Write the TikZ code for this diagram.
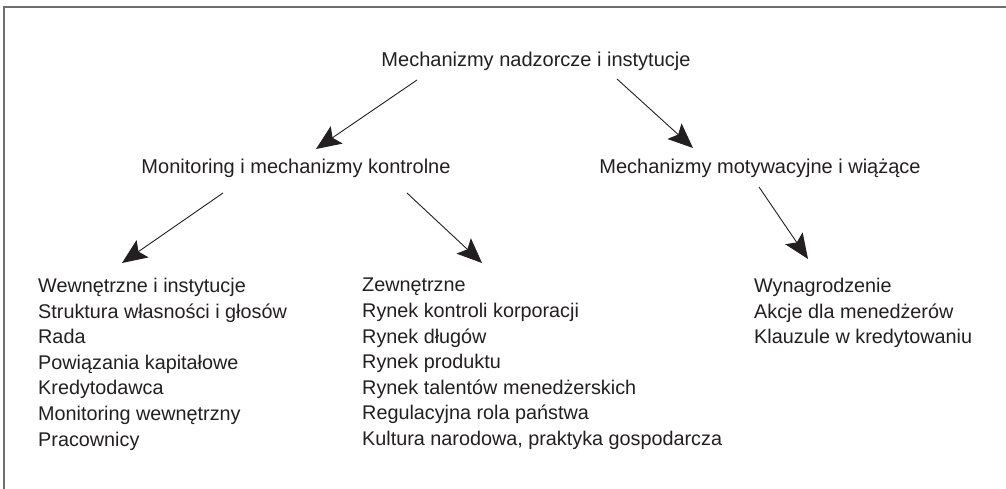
\documentclass[tikz,border=0pt]{standalone}
\usepackage{fontspec}
\setmainfont{Liberation Sans}
\usetikzlibrary{arrows.meta}
\definecolor{txt}{RGB}{35,31,32}
\definecolor{framec}{RGB}{110,110,110}
\begin{document}
\begin{tikzpicture}[x=1pt,y=-1pt,
 head/.style={font=\fontsize{20}{24}\selectfont, text=txt, inner sep=0pt, anchor=base},
 lst/.style={font=\fontsize{19.8}{25.6}\selectfont, text=txt, inner sep=0pt, anchor=north west, align=left},
 arr/.style={-{Stealth[length=25pt,width=21pt,inset=5pt]}, line width=0.9pt, draw=txt}]
\useasboundingbox (0,0) rectangle (1006,489);
\draw[framec, line width=1.3pt] (4,489) -- (4,7) -- (1006,7);
\node[head] (title) at (536,67) {Mechanizmy nadzorcze i instytucje};
\node[head] (mon) at (296,174) {Monitoring i mechanizmy kontrolne};
\node[head] (mot) at (760,174) {Mechanizmy motywacyjne i wiążące};
\node[lst] (l1) at (38,278) {Wewnętrzne i instytucje\\Struktura własności i głosów\\Rada\\Powiązania kapitałowe\\Kredytodawca\\Monitoring wewnętrzny\\Pracownicy};
\node[lst] (l2) at (362,278) {Zewnętrzne\\Rynek kontroli korporacji\\Rynek długów\\Rynek produktu\\Rynek talentów menedżerskich\\Regulacyjna rola państwa\\Kultura narodowa, praktyka gospodarcza};
\node[lst] (l3) at (754,278) {Wynagrodzenie\\Akcje dla menedżerów\\Klauzule w kredytowaniu};
\coordinate (a1s) at (417,80); \coordinate (a1e) at (316,149);
\coordinate (a2s) at (617,79); \coordinate (a2e) at (693,148);
\coordinate (a3s) at (223,193); \coordinate (a3e) at (122,263);
\coordinate (a4s) at (407,193); \coordinate (a4e) at (482,263);
\coordinate (a5s) at (759,187); \coordinate (a5e) at (808,259);
\draw[arr] (a1s) -- (a1e);
\draw[arr] (a2s) -- (a2e);
\draw[arr] (a3s) -- (a3e);
\draw[arr] (a4s) -- (a4e);
\draw[arr] (a5s) -- (a5e);
\end{tikzpicture}
\end{document}
